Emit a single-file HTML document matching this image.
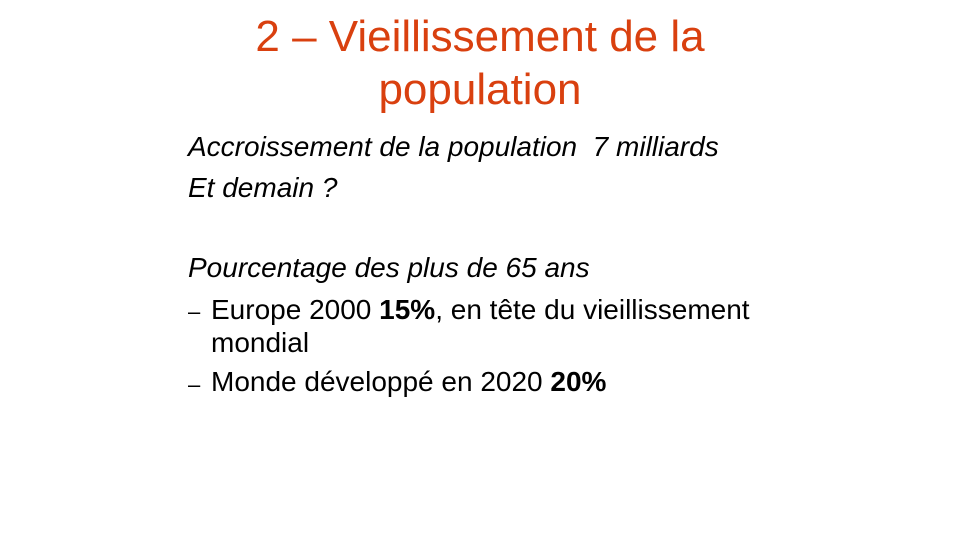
<!DOCTYPE html>
<html><head><meta charset="utf-8"><style>
body{margin:0;width:960px;height:540px;background:#fff;overflow:hidden;font-family:"Liberation Sans",Arial,sans-serif;position:relative}
.t{position:absolute;left:0;width:960px;text-align:center;color:#D9400F;font-size:44px;line-height:53px}
.b{position:absolute;left:188px;font-size:28px;line-height:30px;color:#000;white-space:nowrap}
.i{font-style:italic}
.d{position:absolute;left:188px;font-size:22px;line-height:30px}
</style></head><body>
<div class="t" style="top:10px">2 – Vieillissement de la<br>population</div>
<div class="b i" style="top:132px">Accroissement de la population&nbsp; 7 milliards</div>
<div class="b i" style="top:173px">Et demain ?</div>
<div class="b i" style="top:253px">Pourcentage des plus de 65 ans</div>
<div class="d" style="top:297px">–</div>
<div class="b" style="left:211px;top:293px;line-height:33px">Europe 2000 <b>15%</b>, en tête du vieillissement<br>mondial</div>
<div class="d" style="top:370px">–</div>
<div class="b" style="left:211px;top:367px">Monde développé en 2020 <b>20%</b></div>
</body></html>
